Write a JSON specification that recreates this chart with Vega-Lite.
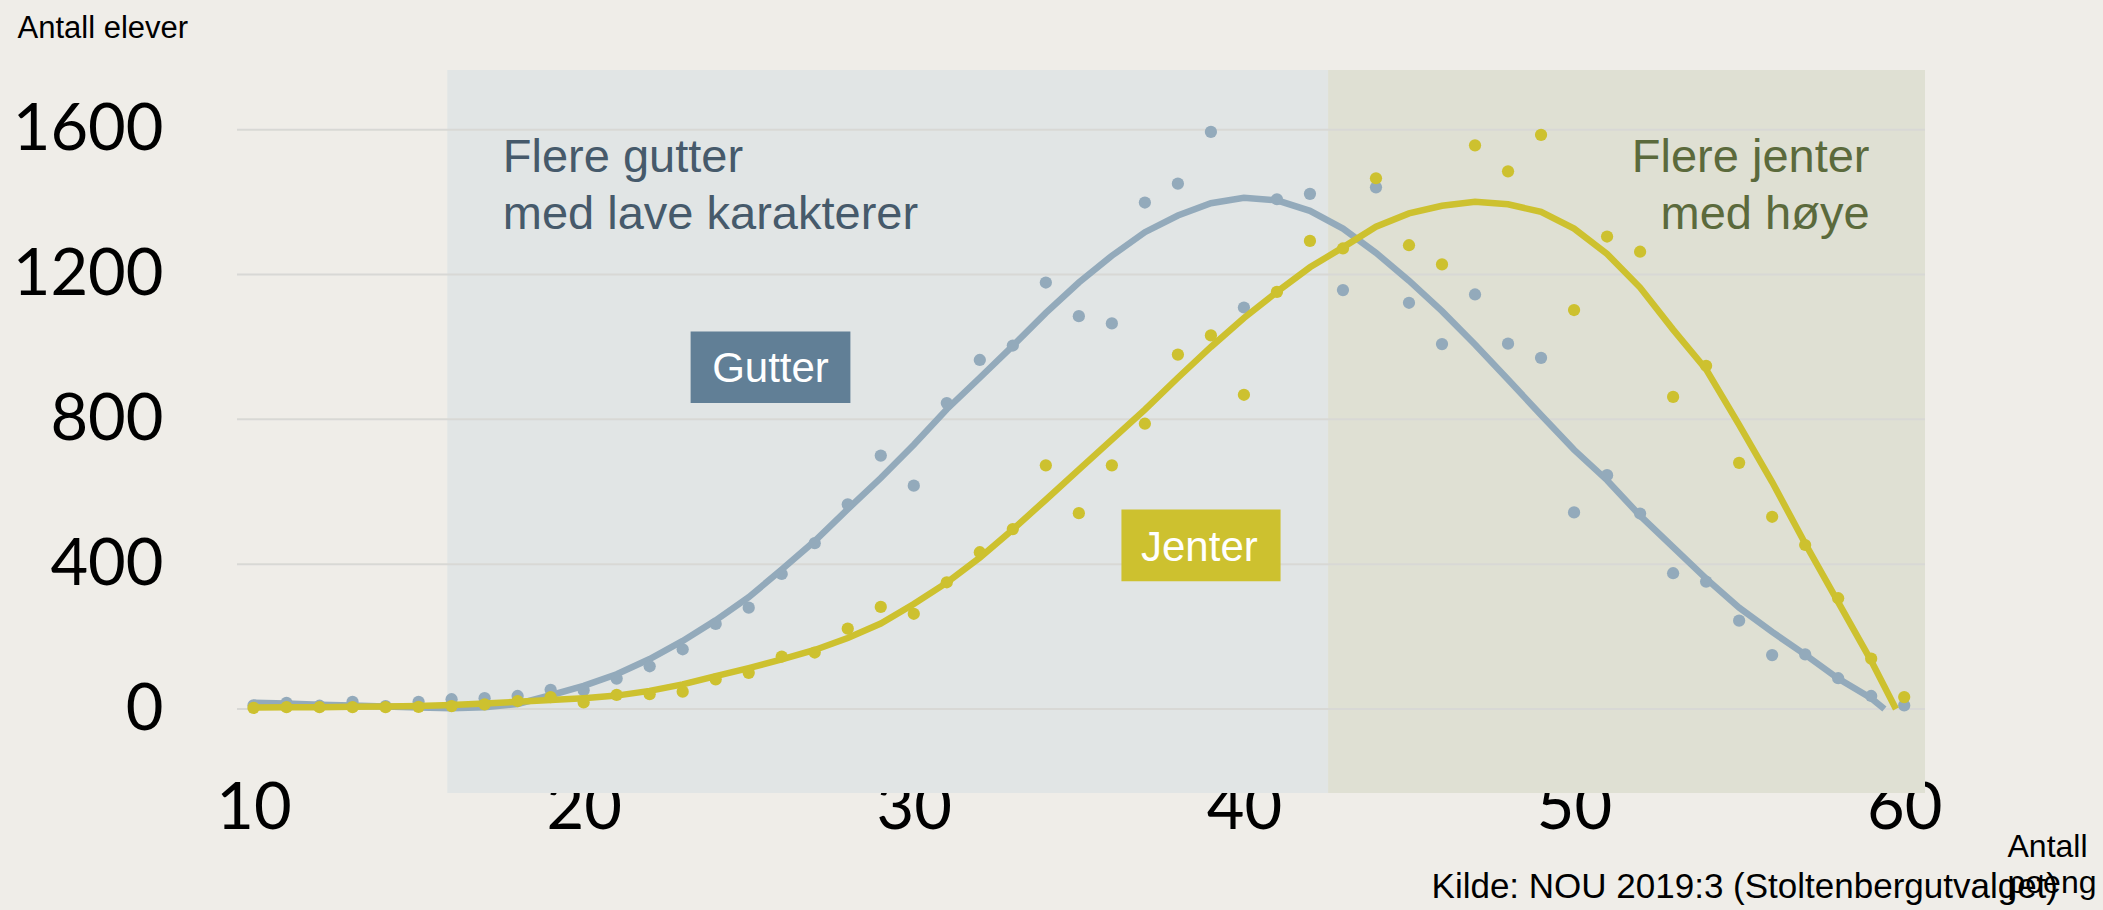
{
  "$schema": "https://vega.github.io/schema/vega-lite/v6.json",
  "width": 1688,
  "height": 723,
  "autosize": {"type": "none"},
  "padding": {"left": 237, "top": 70, "right": 178, "bottom": 117},
  "background": "#EFEDE8",
  "config": {
    "view": {"stroke": null},
    "font": "Liberation Sans",
    "numberFormat": "d",
    "axis": {
      "grid": false, "domain": false, "ticks": false, "tickSize": 0,
      "labelFont": "Lato", "labelFontSize": 65, "labelColor": "#000000",
      "labelBaseline": "alphabetic", "labelOverlap": false, "labelFlush": false,
      "titleFont": "Liberation Sans", "titleFontWeight": "normal", "titleColor": "#000000",
      "titleBaseline": "alphabetic", "titleAlign": "left", "titleAngle": 0
    },
    "axisX": {"labelPadding": 35, "titleX": 1770, "titleY": 63, "titleFontSize": 32, "titleLineHeight": 36},
    "axisY": {"labelPadding": 74, "labelOffset": 20, "labelAlign": "right", "titleX": -220, "titleY": -33, "titleFontSize": 31}
  },
  "title": {
    "text": "Kilde: NOU 2019:3 (Stoltenbergutvalget)",
    "orient": "bottom",
    "anchor": "end",
    "frame": "group",
    "font": "Liberation Sans",
    "fontSize": 35,
    "fontWeight": "normal",
    "color": "#000000",
    "baseline": "alphabetic",
    "offset": 0,
    "dx": 133
  },
  "datasets": {
    "soner": [
      {"poeng": 15.87, "poeng_til": 42.55, "sone": "lav"},
      {"poeng": 42.55, "poeng_til": 60.63, "sone": "hoy"}
    ],
    "rutenett": [{"antall": 0}, {"antall": 400}, {"antall": 800}, {"antall": 1200}, {"antall": 1600}],
    "fit": [
      {"gruppe": "Gutter", "poeng": 10, "antall": 17}, {"gruppe": "Gutter", "poeng": 11, "antall": 15},
      {"gruppe": "Gutter", "poeng": 12, "antall": 12}, {"gruppe": "Gutter", "poeng": 13, "antall": 10},
      {"gruppe": "Gutter", "poeng": 14, "antall": 7}, {"gruppe": "Gutter", "poeng": 15, "antall": 4},
      {"gruppe": "Gutter", "poeng": 16, "antall": 2}, {"gruppe": "Gutter", "poeng": 17, "antall": 5},
      {"gruppe": "Gutter", "poeng": 18, "antall": 14}, {"gruppe": "Gutter", "poeng": 19, "antall": 38},
      {"gruppe": "Gutter", "poeng": 20, "antall": 64}, {"gruppe": "Gutter", "poeng": 21, "antall": 96},
      {"gruppe": "Gutter", "poeng": 22, "antall": 138}, {"gruppe": "Gutter", "poeng": 23, "antall": 188},
      {"gruppe": "Gutter", "poeng": 24, "antall": 245}, {"gruppe": "Gutter", "poeng": 25, "antall": 309},
      {"gruppe": "Gutter", "poeng": 26, "antall": 385}, {"gruppe": "Gutter", "poeng": 27, "antall": 464},
      {"gruppe": "Gutter", "poeng": 28, "antall": 552}, {"gruppe": "Gutter", "poeng": 29, "antall": 638},
      {"gruppe": "Gutter", "poeng": 30, "antall": 730}, {"gruppe": "Gutter", "poeng": 31, "antall": 828},
      {"gruppe": "Gutter", "poeng": 32, "antall": 915}, {"gruppe": "Gutter", "poeng": 33, "antall": 1003},
      {"gruppe": "Gutter", "poeng": 34, "antall": 1094}, {"gruppe": "Gutter", "poeng": 35, "antall": 1178},
      {"gruppe": "Gutter", "poeng": 36, "antall": 1252}, {"gruppe": "Gutter", "poeng": 37, "antall": 1317},
      {"gruppe": "Gutter", "poeng": 38, "antall": 1363}, {"gruppe": "Gutter", "poeng": 39, "antall": 1397},
      {"gruppe": "Gutter", "poeng": 40, "antall": 1412}, {"gruppe": "Gutter", "poeng": 41, "antall": 1405},
      {"gruppe": "Gutter", "poeng": 42, "antall": 1376}, {"gruppe": "Gutter", "poeng": 43, "antall": 1327},
      {"gruppe": "Gutter", "poeng": 44, "antall": 1260}, {"gruppe": "Gutter", "poeng": 45, "antall": 1183},
      {"gruppe": "Gutter", "poeng": 46, "antall": 1099}, {"gruppe": "Gutter", "poeng": 47, "antall": 1007},
      {"gruppe": "Gutter", "poeng": 48, "antall": 910}, {"gruppe": "Gutter", "poeng": 49, "antall": 812},
      {"gruppe": "Gutter", "poeng": 50, "antall": 716}, {"gruppe": "Gutter", "poeng": 51, "antall": 632},
      {"gruppe": "Gutter", "poeng": 52, "antall": 534}, {"gruppe": "Gutter", "poeng": 53, "antall": 447},
      {"gruppe": "Gutter", "poeng": 54, "antall": 360}, {"gruppe": "Gutter", "poeng": 55, "antall": 280},
      {"gruppe": "Gutter", "poeng": 56, "antall": 213}, {"gruppe": "Gutter", "poeng": 57, "antall": 150},
      {"gruppe": "Gutter", "poeng": 58, "antall": 84}, {"gruppe": "Gutter", "poeng": 59, "antall": 30},
      {"gruppe": "Gutter", "poeng": 59.4, "antall": 0},
      {"gruppe": "Jenter", "poeng": 10, "antall": 4}, {"gruppe": "Jenter", "poeng": 11, "antall": 5},
      {"gruppe": "Jenter", "poeng": 12, "antall": 5}, {"gruppe": "Jenter", "poeng": 13, "antall": 6},
      {"gruppe": "Jenter", "poeng": 14, "antall": 7}, {"gruppe": "Jenter", "poeng": 15, "antall": 8},
      {"gruppe": "Jenter", "poeng": 16, "antall": 11}, {"gruppe": "Jenter", "poeng": 17, "antall": 15},
      {"gruppe": "Jenter", "poeng": 18, "antall": 20}, {"gruppe": "Jenter", "poeng": 19, "antall": 25},
      {"gruppe": "Jenter", "poeng": 20, "antall": 30}, {"gruppe": "Jenter", "poeng": 21, "antall": 37},
      {"gruppe": "Jenter", "poeng": 22, "antall": 50}, {"gruppe": "Jenter", "poeng": 23, "antall": 68},
      {"gruppe": "Jenter", "poeng": 24, "antall": 91}, {"gruppe": "Jenter", "poeng": 25, "antall": 113},
      {"gruppe": "Jenter", "poeng": 26, "antall": 137}, {"gruppe": "Jenter", "poeng": 27, "antall": 163},
      {"gruppe": "Jenter", "poeng": 28, "antall": 196}, {"gruppe": "Jenter", "poeng": 29, "antall": 236},
      {"gruppe": "Jenter", "poeng": 30, "antall": 290}, {"gruppe": "Jenter", "poeng": 31, "antall": 349},
      {"gruppe": "Jenter", "poeng": 32, "antall": 418}, {"gruppe": "Jenter", "poeng": 33, "antall": 496},
      {"gruppe": "Jenter", "poeng": 34, "antall": 578}, {"gruppe": "Jenter", "poeng": 35, "antall": 661},
      {"gruppe": "Jenter", "poeng": 36, "antall": 744}, {"gruppe": "Jenter", "poeng": 37, "antall": 827},
      {"gruppe": "Jenter", "poeng": 38, "antall": 915}, {"gruppe": "Jenter", "poeng": 39, "antall": 1000},
      {"gruppe": "Jenter", "poeng": 40, "antall": 1080}, {"gruppe": "Jenter", "poeng": 41, "antall": 1152},
      {"gruppe": "Jenter", "poeng": 42, "antall": 1220}, {"gruppe": "Jenter", "poeng": 43, "antall": 1275},
      {"gruppe": "Jenter", "poeng": 44, "antall": 1332}, {"gruppe": "Jenter", "poeng": 45, "antall": 1369},
      {"gruppe": "Jenter", "poeng": 46, "antall": 1390}, {"gruppe": "Jenter", "poeng": 47, "antall": 1401},
      {"gruppe": "Jenter", "poeng": 48, "antall": 1394}, {"gruppe": "Jenter", "poeng": 49, "antall": 1373},
      {"gruppe": "Jenter", "poeng": 50, "antall": 1327}, {"gruppe": "Jenter", "poeng": 51, "antall": 1257},
      {"gruppe": "Jenter", "poeng": 52, "antall": 1164}, {"gruppe": "Jenter", "poeng": 53, "antall": 1048},
      {"gruppe": "Jenter", "poeng": 54, "antall": 938}, {"gruppe": "Jenter", "poeng": 55, "antall": 785},
      {"gruppe": "Jenter", "poeng": 56, "antall": 627}, {"gruppe": "Jenter", "poeng": 57, "antall": 457},
      {"gruppe": "Jenter", "poeng": 58, "antall": 295}, {"gruppe": "Jenter", "poeng": 59, "antall": 133},
      {"gruppe": "Jenter", "poeng": 59.75, "antall": 0}
    ],
    "obs": [
      {"gruppe": "Gutter", "poeng": 10, "antall": 10}, {"gruppe": "Gutter", "poeng": 11, "antall": 17},
      {"gruppe": "Gutter", "poeng": 12, "antall": 9}, {"gruppe": "Gutter", "poeng": 13, "antall": 20},
      {"gruppe": "Gutter", "poeng": 14, "antall": 8}, {"gruppe": "Gutter", "poeng": 15, "antall": 20},
      {"gruppe": "Gutter", "poeng": 16, "antall": 27}, {"gruppe": "Gutter", "poeng": 17, "antall": 30},
      {"gruppe": "Gutter", "poeng": 18, "antall": 36}, {"gruppe": "Gutter", "poeng": 19, "antall": 53},
      {"gruppe": "Gutter", "poeng": 20, "antall": 52}, {"gruppe": "Gutter", "poeng": 21, "antall": 84},
      {"gruppe": "Gutter", "poeng": 22, "antall": 118}, {"gruppe": "Gutter", "poeng": 23, "antall": 165},
      {"gruppe": "Gutter", "poeng": 24, "antall": 235}, {"gruppe": "Gutter", "poeng": 25, "antall": 280},
      {"gruppe": "Gutter", "poeng": 26, "antall": 373}, {"gruppe": "Gutter", "poeng": 27, "antall": 458},
      {"gruppe": "Gutter", "poeng": 28, "antall": 565}, {"gruppe": "Gutter", "poeng": 29, "antall": 700},
      {"gruppe": "Gutter", "poeng": 30, "antall": 617}, {"gruppe": "Gutter", "poeng": 31, "antall": 845},
      {"gruppe": "Gutter", "poeng": 32, "antall": 964}, {"gruppe": "Gutter", "poeng": 33, "antall": 1004},
      {"gruppe": "Gutter", "poeng": 34, "antall": 1178}, {"gruppe": "Gutter", "poeng": 35, "antall": 1085},
      {"gruppe": "Gutter", "poeng": 36, "antall": 1065}, {"gruppe": "Gutter", "poeng": 37, "antall": 1399},
      {"gruppe": "Gutter", "poeng": 38, "antall": 1451}, {"gruppe": "Gutter", "poeng": 39, "antall": 1594},
      {"gruppe": "Gutter", "poeng": 40, "antall": 1109}, {"gruppe": "Gutter", "poeng": 41, "antall": 1408},
      {"gruppe": "Gutter", "poeng": 42, "antall": 1423}, {"gruppe": "Gutter", "poeng": 43, "antall": 1157},
      {"gruppe": "Gutter", "poeng": 44, "antall": 1441}, {"gruppe": "Gutter", "poeng": 45, "antall": 1122},
      {"gruppe": "Gutter", "poeng": 46, "antall": 1008}, {"gruppe": "Gutter", "poeng": 47, "antall": 1145},
      {"gruppe": "Gutter", "poeng": 48, "antall": 1009}, {"gruppe": "Gutter", "poeng": 49, "antall": 970},
      {"gruppe": "Gutter", "poeng": 50, "antall": 543}, {"gruppe": "Gutter", "poeng": 51, "antall": 646},
      {"gruppe": "Gutter", "poeng": 52, "antall": 540}, {"gruppe": "Gutter", "poeng": 53, "antall": 375},
      {"gruppe": "Gutter", "poeng": 54, "antall": 352}, {"gruppe": "Gutter", "poeng": 55, "antall": 244},
      {"gruppe": "Gutter", "poeng": 56, "antall": 149}, {"gruppe": "Gutter", "poeng": 57, "antall": 151},
      {"gruppe": "Gutter", "poeng": 58, "antall": 85}, {"gruppe": "Gutter", "poeng": 59, "antall": 36},
      {"gruppe": "Gutter", "poeng": 60, "antall": 10},
      {"gruppe": "Jenter", "poeng": 10, "antall": 3}, {"gruppe": "Jenter", "poeng": 11, "antall": 5},
      {"gruppe": "Jenter", "poeng": 12, "antall": 5}, {"gruppe": "Jenter", "poeng": 13, "antall": 5},
      {"gruppe": "Jenter", "poeng": 14, "antall": 5}, {"gruppe": "Jenter", "poeng": 15, "antall": 6},
      {"gruppe": "Jenter", "poeng": 16, "antall": 8}, {"gruppe": "Jenter", "poeng": 17, "antall": 13},
      {"gruppe": "Jenter", "poeng": 18, "antall": 22}, {"gruppe": "Jenter", "poeng": 19, "antall": 33},
      {"gruppe": "Jenter", "poeng": 20, "antall": 18}, {"gruppe": "Jenter", "poeng": 21, "antall": 39},
      {"gruppe": "Jenter", "poeng": 22, "antall": 41}, {"gruppe": "Jenter", "poeng": 23, "antall": 48},
      {"gruppe": "Jenter", "poeng": 24, "antall": 82}, {"gruppe": "Jenter", "poeng": 25, "antall": 100},
      {"gruppe": "Jenter", "poeng": 26, "antall": 145}, {"gruppe": "Jenter", "poeng": 27, "antall": 156},
      {"gruppe": "Jenter", "poeng": 28, "antall": 222}, {"gruppe": "Jenter", "poeng": 29, "antall": 282},
      {"gruppe": "Jenter", "poeng": 30, "antall": 263}, {"gruppe": "Jenter", "poeng": 31, "antall": 350},
      {"gruppe": "Jenter", "poeng": 32, "antall": 433}, {"gruppe": "Jenter", "poeng": 33, "antall": 497},
      {"gruppe": "Jenter", "poeng": 34, "antall": 673}, {"gruppe": "Jenter", "poeng": 35, "antall": 541},
      {"gruppe": "Jenter", "poeng": 36, "antall": 673}, {"gruppe": "Jenter", "poeng": 37, "antall": 788},
      {"gruppe": "Jenter", "poeng": 38, "antall": 979}, {"gruppe": "Jenter", "poeng": 39, "antall": 1032},
      {"gruppe": "Jenter", "poeng": 40, "antall": 868}, {"gruppe": "Jenter", "poeng": 41, "antall": 1152},
      {"gruppe": "Jenter", "poeng": 42, "antall": 1293}, {"gruppe": "Jenter", "poeng": 43, "antall": 1272},
      {"gruppe": "Jenter", "poeng": 44, "antall": 1466}, {"gruppe": "Jenter", "poeng": 45, "antall": 1281},
      {"gruppe": "Jenter", "poeng": 46, "antall": 1228}, {"gruppe": "Jenter", "poeng": 47, "antall": 1557},
      {"gruppe": "Jenter", "poeng": 48, "antall": 1485}, {"gruppe": "Jenter", "poeng": 49, "antall": 1586},
      {"gruppe": "Jenter", "poeng": 50, "antall": 1102}, {"gruppe": "Jenter", "poeng": 51, "antall": 1305},
      {"gruppe": "Jenter", "poeng": 52, "antall": 1263}, {"gruppe": "Jenter", "poeng": 53, "antall": 862},
      {"gruppe": "Jenter", "poeng": 54, "antall": 948}, {"gruppe": "Jenter", "poeng": 55, "antall": 680},
      {"gruppe": "Jenter", "poeng": 56, "antall": 531}, {"gruppe": "Jenter", "poeng": 57, "antall": 453},
      {"gruppe": "Jenter", "poeng": 58, "antall": 306}, {"gruppe": "Jenter", "poeng": 59, "antall": 139},
      {"gruppe": "Jenter", "poeng": 60, "antall": 33}
    ],
    "bokser": [
      {"etikett": "Gutter", "poeng": 23.24, "poeng_til": 28.08, "antall": 1043, "antall_til": 845},
      {"etikett": "Jenter", "poeng": 36.29, "poeng_til": 41.11, "antall": 551, "antall_til": 353}
    ],
    "etiketter": [
      {"etikett": "Gutter", "poeng": 25.66, "antall": 903},
      {"etikett": "Jenter", "poeng": 38.65, "antall": 410}
    ]
  },
  "layer": [
    {
      "data": {"name": "soner"},
      "transform": [{"filter": "datum.sone === 'lav'"}],
      "mark": {"type": "rect", "color": "#E1E5E5"},
      "encoding": {
        "x": {"field": "poeng", "type": "quantitative", "scale": {"domain": [9.5, 60.63], "nice": false, "zero": false}, "axis": {"values": [10, 20, 30, 40, 50, 60], "format": "d", "title": ["Antall", "poeng"]}},
        "x2": {"field": "poeng_til"}
      }
    },
    {
      "data": {"name": "soner"},
      "transform": [{"filter": "datum.sone === 'hoy'"}],
      "mark": {"type": "rect", "color": "#DFE0D3"},
      "encoding": {
        "x": {"field": "poeng", "type": "quantitative", "scale": {"domain": [9.5, 60.63], "nice": false, "zero": false}, "axis": {"values": [10, 20, 30, 40, 50, 60], "format": "d", "title": ["Antall", "poeng"]}},
        "x2": {"field": "poeng_til"}
      }
    },
    {
      "data": {"name": "rutenett"},
      "mark": {"type": "rule", "color": "#D8D8D5", "strokeWidth": 2},
      "encoding": {
        "y": {"field": "antall", "type": "quantitative", "scale": {"domain": [-232, 1765], "nice": false, "zero": false}, "axis": {"values": [0, 400, 800, 1200, 1600], "format": "d", "title": "Antall elever"}}
      }
    },
    {
      "data": {"name": "fit"},
      "transform": [{"filter": "datum.gruppe === 'Gutter'"}],
      "mark": {"type": "line", "color": "#93AABB", "strokeWidth": 6.5},
      "encoding": {
        "x": {"field": "poeng", "type": "quantitative", "scale": {"domain": [9.5, 60.63], "nice": false, "zero": false}, "axis": {"values": [10, 20, 30, 40, 50, 60], "format": "d", "title": ["Antall", "poeng"]}},
        "y": {"field": "antall", "type": "quantitative", "scale": {"domain": [-232, 1765], "nice": false, "zero": false}, "axis": {"values": [0, 400, 800, 1200, 1600], "format": "d", "title": "Antall elever"}}
      }
    },
    {
      "data": {"name": "obs"},
      "transform": [{"filter": "datum.gruppe === 'Gutter'"}],
      "mark": {"type": "circle", "color": "#93AABB", "size": 150, "opacity": 1},
      "encoding": {
        "x": {"field": "poeng", "type": "quantitative", "scale": {"domain": [9.5, 60.63], "nice": false, "zero": false}, "axis": {"values": [10, 20, 30, 40, 50, 60], "format": "d", "title": ["Antall", "poeng"]}},
        "y": {"field": "antall", "type": "quantitative", "scale": {"domain": [-232, 1765], "nice": false, "zero": false}, "axis": {"values": [0, 400, 800, 1200, 1600], "format": "d", "title": "Antall elever"}}
      }
    },
    {
      "data": {"name": "fit"},
      "transform": [{"filter": "datum.gruppe === 'Jenter'"}],
      "mark": {"type": "line", "color": "#CDC12F", "strokeWidth": 6.5},
      "encoding": {
        "x": {"field": "poeng", "type": "quantitative", "scale": {"domain": [9.5, 60.63], "nice": false, "zero": false}, "axis": {"values": [10, 20, 30, 40, 50, 60], "format": "d", "title": ["Antall", "poeng"]}},
        "y": {"field": "antall", "type": "quantitative", "scale": {"domain": [-232, 1765], "nice": false, "zero": false}, "axis": {"values": [0, 400, 800, 1200, 1600], "format": "d", "title": "Antall elever"}}
      }
    },
    {
      "data": {"name": "obs"},
      "transform": [{"filter": "datum.gruppe === 'Jenter'"}],
      "mark": {"type": "circle", "color": "#CDC12F", "size": 150, "opacity": 1},
      "encoding": {
        "x": {"field": "poeng", "type": "quantitative", "scale": {"domain": [9.5, 60.63], "nice": false, "zero": false}, "axis": {"values": [10, 20, 30, 40, 50, 60], "format": "d", "title": ["Antall", "poeng"]}},
        "y": {"field": "antall", "type": "quantitative", "scale": {"domain": [-232, 1765], "nice": false, "zero": false}, "axis": {"values": [0, 400, 800, 1200, 1600], "format": "d", "title": "Antall elever"}}
      }
    },
    {
      "data": {"name": "bokser"},
      "transform": [{"filter": "datum.etikett === 'Gutter'"}],
      "mark": {"type": "rect", "color": "#617F96"},
      "encoding": {
        "x": {"field": "poeng", "type": "quantitative", "scale": {"domain": [9.5, 60.63], "nice": false, "zero": false}, "axis": {"values": [10, 20, 30, 40, 50, 60], "format": "d", "title": ["Antall", "poeng"]}},
        "x2": {"field": "poeng_til"},
        "y": {"field": "antall", "type": "quantitative", "scale": {"domain": [-232, 1765], "nice": false, "zero": false}, "axis": {"values": [0, 400, 800, 1200, 1600], "format": "d", "title": "Antall elever"}},
        "y2": {"field": "antall_til"}
      }
    },
    {
      "data": {"name": "bokser"},
      "transform": [{"filter": "datum.etikett === 'Jenter'"}],
      "mark": {"type": "rect", "color": "#CDC12F"},
      "encoding": {
        "x": {"field": "poeng", "type": "quantitative", "scale": {"domain": [9.5, 60.63], "nice": false, "zero": false}, "axis": {"values": [10, 20, 30, 40, 50, 60], "format": "d", "title": ["Antall", "poeng"]}},
        "x2": {"field": "poeng_til"},
        "y": {"field": "antall", "type": "quantitative", "scale": {"domain": [-232, 1765], "nice": false, "zero": false}, "axis": {"values": [0, 400, 800, 1200, 1600], "format": "d", "title": "Antall elever"}},
        "y2": {"field": "antall_til"}
      }
    },
    {
      "data": {"name": "etiketter"},
      "mark": {"type": "text", "font": "Liberation Sans", "fontSize": 42, "color": "#FFFFFF", "align": "center", "baseline": "alphabetic"},
      "encoding": {
        "x": {"field": "poeng", "type": "quantitative", "scale": {"domain": [9.5, 60.63], "nice": false, "zero": false}, "axis": {"values": [10, 20, 30, 40, 50, 60], "format": "d", "title": ["Antall", "poeng"]}},
        "y": {"field": "antall", "type": "quantitative", "scale": {"domain": [-232, 1765], "nice": false, "zero": false}, "axis": {"values": [0, 400, 800, 1200, 1600], "format": "d", "title": "Antall elever"}},
        "text": {"field": "etikett"}
      }
    },
    {
      "data": {"values": [{"tekst": "Flere gutter\nmed lave karakterer", "poeng": 17.55, "antall": 1482}]},
      "mark": {"type": "text", "font": "Liberation Sans", "fontSize": 47, "color": "#465A6B", "align": "left", "baseline": "alphabetic", "lineBreak": "\n", "lineHeight": 57},
      "encoding": {
        "x": {"field": "poeng", "type": "quantitative", "scale": {"domain": [9.5, 60.63], "nice": false, "zero": false}, "axis": {"values": [10, 20, 30, 40, 50, 60], "format": "d", "title": ["Antall", "poeng"]}},
        "y": {"field": "antall", "type": "quantitative", "scale": {"domain": [-232, 1765], "nice": false, "zero": false}, "axis": {"values": [0, 400, 800, 1200, 1600], "format": "d", "title": "Antall elever"}},
        "text": {"field": "tekst"}
      }
    },
    {
      "data": {"values": [{"tekst": "Flere jenter\nmed høye", "poeng": 58.95, "antall": 1484}]},
      "mark": {"type": "text", "font": "Liberation Sans", "fontSize": 47, "color": "#5B6A3C", "align": "right", "baseline": "alphabetic", "lineBreak": "\n", "lineHeight": 57},
      "encoding": {
        "x": {"field": "poeng", "type": "quantitative", "scale": {"domain": [9.5, 60.63], "nice": false, "zero": false}, "axis": {"values": [10, 20, 30, 40, 50, 60], "format": "d", "title": ["Antall", "poeng"]}},
        "y": {"field": "antall", "type": "quantitative", "scale": {"domain": [-232, 1765], "nice": false, "zero": false}, "axis": {"values": [0, 400, 800, 1200, 1600], "format": "d", "title": "Antall elever"}},
        "text": {"field": "tekst"}
      }
    }
  ]
}
